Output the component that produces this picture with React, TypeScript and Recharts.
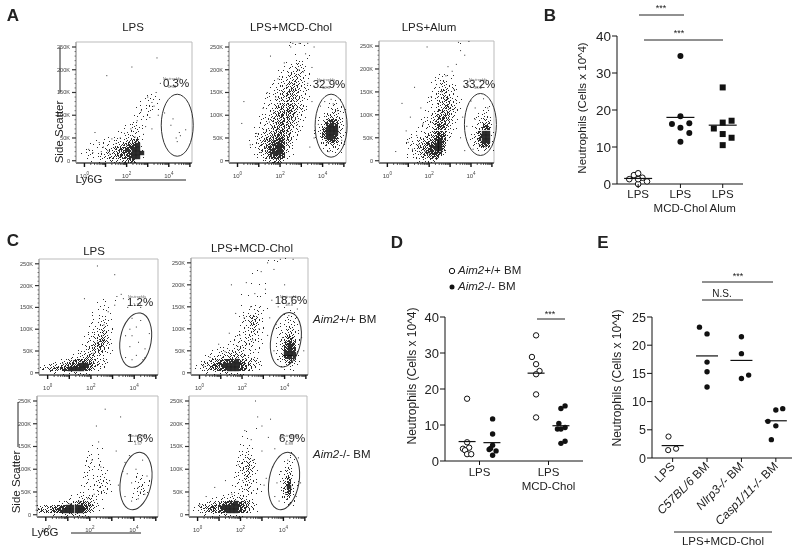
import React from "react"
import {
  ReferenceArea,
  Scatter,
  ScatterChart,
  XAxis,
  YAxis,
} from "recharts"

// value charts: [x position, cells x 10^4]
const B_LPS = [[0.79, 1.3], [0.9, 2.4], [1, 2.9], [1.1, 1.7], [1.21, 0.7], [1, 0], [1, 1.3]]
const B_MCD = [[2, 34.6], [2, 18.3], [1.8, 16.2], [2.21, 16.4], [2, 15.2], [2.21, 13.8], [2, 11.4]]
const B_ALUM = [[3, 26.1], [3, 16.6], [3.21, 17.1], [2.79, 15], [3, 13.5], [3.21, 12.5], [3, 10.5]]
const B_MEANS = [[1, 1.5], [2, 18], [3, 15.9]]
const B_TICKS = [1, 2, 3]
const B_LABELS = [["LPS"], ["LPS", "MCD-Chol"], ["LPS", "Alum"]]
const B_Y_TICKS = [0, 10, 20, 30, 40]

const D_OPEN = [
  [0.82, 17.3], [0.82, 5.2], [0.76, 3.4], [0.85, 3.7], [0.79, 3], [0.82, 1.9], [0.88, 1.9],
  [1.82, 34.9], [1.76, 28.9], [1.82, 26.9], [1.87, 25], [1.82, 24.1], [1.82, 18.5], [1.82, 12.1],
]
const D_FILLED = [
  [1.19, 11.7], [1.19, 7.5], [1.19, 4.4], [1.14, 3.2], [1.24, 2.8], [1.19, 1.6], [1.16, 3.5],
  [2.24, 15.3], [2.18, 14.6], [2.15, 10.4], [2.24, 9.3], [2.13, 8.9], [2.18, 8.9], [2.24, 5.5], [2.18, 4.9],
]
const D_MEANS = [[0.82, 5.4], [1.18, 5.1], [1.82, 24.4], [2.18, 9.8]]
const D_TICKS = [1, 2]
const D_LABELS = [["LPS"], ["LPS", "MCD-Chol"]]
const D_Y_TICKS = [0, 10, 20, 30, 40]

const E_LPS = [[0.88, 3.8], [0.87, 1.4], [1.1, 1.65]]
const E_FILLED = [
  [1.78, 23.2], [2, 22], [2, 17], [2, 15.3], [2, 12.6],
  [3, 21.5], [3, 18.5], [3, 14.1], [3.21, 14.7],
  [4, 8.5], [4.2, 8.75], [3.77, 6.5], [4, 5.7], [3.87, 3.25],
]
const E_MEANS = [[1, 2.2], [2, 18.1], [3, 17.3], [4, 6.6]]
const E_TICKS = [1, 2, 3, 4]
const E_Y_TICKS = [0, 5, 10, 15, 20, 25]

// flow plots: digits are the darkness read per cell, top row first, left to right
const A1_DENSITY = [
  "", "", "", "", "", "", "", "", "", "", "", "", "",
  "000000000000000001110",
  "0000000000000000112110",
  "0000000000000000112110",
  "000000000000000111111",
  "00000000000000011110",
  "0000000000000011110",
  "000000000000001111",
  "00000000000011211",
  "000000000000112210",
  "000000000011122210",
  "0000000011112333",
  "00000111112234661",
  "00011111123457891",
  "00111112345788991",
  "01111123345678999",
  "00111123445678991",
  "0001011122334660",
]
const A2_DENSITY = [
  "0000000000000011111",
  "",
  "",
  "000000000000000010010",
  "000000000000000011110",
  "00000000000000112210",
  "0000000000000112322",
  "00000000000012233321",
  "000000000000123343210",
  "000000000001123343210",
  "000000000011234443211",
  "000000000011234543210",
  "00000000011234554321",
  "000000000112345543210",
  "0000000001123455432100000011",
  "00000000112345554321000011210",
  "00000000112345654321000012321",
  "00000000112456654210000123321",
  "00000001123456653210001134321",
  "00000001123456543210001368631",
  "00000001123456543110001389831",
  "00000011233556532100012699931",
  "00000012334566532100012799931",
  "00000012345677531000012699831",
  "00000112456788531000001368621",
  "00000113457898420000001234321",
  "00000112458898310000000122210",
  "00000012358998210000000011110",
  "000000012478872",
  "00000000123552",
]
const A3_DENSITY = [
  "00000000000000000000100",
  "", "", "", "", "", "", "",
  "00000000000000112110",
  "000000000000001221100",
  "00000000000001123211",
  "000000000000011233210",
  "000000000000012343210",
  "00000000000011234421",
  "000000000000112345321",
  "000000000000112345321",
  "00000000000001234543100000110",
  "00000000000112345532000001220",
  "00000000000113456531000011221",
  "00000000001123456521000012321",
  "00000000001123566421000012551",
  "00000000011123576321000123781",
  "00000000111234676210000136991",
  "00000001112345787210000137991",
  "00000011123456897100000136991",
  "00000011234578996000000125871",
  "00000001234678995000000012321",
  "00000001234578873",
  "0000000112345671",
  "000000000122331",
]
const C1_DENSITY = [
  "", "", "", "", "", "", "", "", "", "",
  "000000000000000100100",
  "00000000000000101",
  "000000000000001110",
  "00000000000001111",
  "000000000000011111",
  "000000000000011121",
  "000000000000112210",
  "00000000000011232100",
  "00000000000012343100",
  "0000000000001234310",
  "000000000001234531",
  "0000000000012356410",
  "00000000001235652100",
  "00000000011235542100",
  "0000000011234442110",
  "00000001123443211",
  "000012345666543210",
  "012334567899754210",
  "23456789999863210",
  "0011111222211",
]
const C2_DENSITY = [
  "000000000000000000011101",
  "", "",
  "00000000000000011000",
  "", "",
  "000000000000001010100",
  "", "",
  "00000000000010101110000000",
  "", "",
  "00000000000010111110000100",
  "000000000000011121000000110",
  "000000000000012321000001110",
  "000000000000123431000001211",
  "000000000000124431000011221",
  "000000000000123421000112321",
  "000000000000123421000112331",
  "000000000001123321000123431",
  "000000000011123211000124641",
  "000000000111233211000136861",
  "000000011112332110000137971",
  "000001111233322110000138981",
  "000011122334322110000139991",
  "000112333444332110000138971",
  "001234567889654321000124641",
  "012346789999865321000012321",
  "012345678999864210000001110",
  "000111122221110",
]
const C3_DENSITY = [
  "", "", "", "", "", "", "", "", "", "", "", "",
  "00000000000001000",
  "00000000000010110",
  "000000000000111000",
  "0000000000011110",
  "00000000000111110",
  "000000000001211100",
  "0000000000012111100",
  "00000000000111121000000111",
  "000000000001111221000001111",
  "0000000000011122210000011210",
  "00000000001111232000000123100",
  "000000000011112321000000231",
  "00000000111112211000000121",
  "0000000111233211000000110",
  "000001234566531",
  "3345678999986421",
  "4556789999975310",
  "0001112333221",
]
const C4_DENSITY = [
  "", "", "", "", "", "", "", "",
  "00000000000000101",
  "",
  "0000000000000110",
  "",
  "0000000000001110",
  "00000000000011210",
  "00000000000012210000000011",
  "000000000000123210000000110",
  "000000000001234210000001210",
  "000000000001235310000001310",
  "000000000001234310000012310",
  "000000000001134210000012410",
  "000000000001123210000013610",
  "000000000001123211000014821",
  "000000000011123110000014921",
  "000000000011123211000014821",
  "000000001111222110000013610",
  "000001112233322100000012310",
  "001123456789765210000001210",
  "013456789999865310000000110",
  "012345678999864210",
  "000111122221110",
]

// single events outside the dense parts: [log10 Ly6G, SSC in K]
const A1_DOTS = [
  [1.06, 187], [3.44, 226], [2.25, 206], [4.2, 92], [4.5, 62], [4.35, 50], [4.8, 68], [4.4, 42],
  [4.55, 55], [4.1, 78], [0.2, 25], [0.5, 62], [0.7, 40], [0.9, 30], [1.1, 22], [1.3, 48], [0.4, 18],
  [1.5, 38], [1.7, 50], [1.9, 60], [2.2, 70], [2.5, 88], [2.7, 110], [3, 140], [3.2, 128], [3.4, 150],
  [3.6, 170], [3.3, 120], [3.5, 100], [3.8, 105], [3.1, 95], [2.9, 75], [2.3, 15], [1.6, 12], [2, 35],
  [2.4, 52], [2.8, 58], [3.2, 70], [2.6, 30], [2.1, 24], [1.2, 15], [0.8, 20],
]
const A2_DOTS = [
  [0.3, 130], [1.55, 230], [0.9, 60], [1.2, 115], [0.6, 35], [1.5, 85], [1.9, 180], [2.2, 215], [2.5, 250],
  [3.2, 235], [3.6, 250], [2.9, 258], [3.3, 258], [2.6, 258], [1.3, 28], [1.7, 45], [1.1, 18], [1.9, 70],
  [3.7, 170], [3.5, 205], [3.9, 120], [3.8, 80], [3.6, 50], [3.4, 30], [4.3, 20], [4.9, 45], [4.1, 130],
  [4.5, 125], [4.2, 40], [4.7, 110], [4.4, 135], [0.2, 82], [2, 125], [1.4, 150], [1.8, 140], [2.1, 30],
  [2.3, 165], [3.1, 195], [3.3, 170], [3.5, 130], [1.7, 105], [2.9, 200],
]
const A3_DOTS = [
  [1.9, 248], [3.4, 258], [3.9, 260], [3.5, 240], [3.7, 230], [2.9, 205], [3.3, 210], [0.7, 125], [0.9, 65],
  [0.4, 20], [1.1, 95], [1.3, 160], [1.6, 115], [1.4, 55], [1.7, 80], [2.1, 140], [2.3, 175], [2.4, 100],
  [2.6, 150], [3.1, 195], [3.8, 165], [4, 130], [3.8, 75], [3.6, 95], [3.5, 50], [3.7, 22], [4.2, 115],
  [4.6, 135], [4.8, 115], [4.1, 25], [4.4, 35], [4.7, 30], [4.2, 90], [1, 40], [1.2, 25], [1.5, 35],
  [1.8, 20], [2, 15], [2.8, 185], [3.2, 155],
]
const C1_DOTS = [
  [2.3, 245], [3.1, 225], [1.7, 170], [3.4, 180], [3.2, 175], [3.5, 170], [3.7, 150], [3.9, 125], [3.8, 100],
  [4.1, 105], [4.3, 120], [3.9, 85], [4.2, 70], [4.1, 40], [4.5, 55], [4.4, 30], [4.7, 90], [3.8, 60],
  [3.6, 35], [3.9, 30], [2.3, 70], [2.6, 110], [2.1, 45], [1.8, 35], [1.2, 28], [0.7, 22], [2.8, 140],
  [3.1, 155], [2.5, 85], [3.6, 85], [4.5, 35], [4.3, 150],
]
const C2_DOTS = [
  [3.2, 250], [2.9, 230], [3.5, 235], [3.8, 258], [4.4, 258], [1.7, 135], [0.9, 65], [0.5, 35], [1.4, 90],
  [2.1, 125], [1.8, 60], [1.2, 48], [2.4, 150], [2.6, 180], [3.1, 190], [3.4, 165], [3.7, 150], [3.3, 125],
  [3.6, 110], [3.9, 80], [3.5, 50], [3.7, 30], [0.2, 15], [4.6, 145], [4.8, 80], [4.2, 130], [4.9, 50],
  [2.2, 205], [1.5, 200], [2.8, 100], [1.9, 85], [2.5, 75], [3.2, 85], [4, 200],
]
const C3_DOTS = [
  [2.7, 232], [2.3, 195], [3.4, 215], [2.4, 160], [3.2, 140], [3.8, 130], [2.1, 120], [2.5, 105], [3.6, 115],
  [3.7, 90], [3.9, 70], [3.6, 40], [3.9, 30], [4.1, 100], [4.4, 120], [4.2, 60], [4.3, 50], [4.5, 45],
  [4.6, 85], [4.2, 35], [2.9, 75], [2.2, 45], [1.5, 30], [1.1, 24], [0.6, 20], [1.9, 35], [3.3, 65], [3.5, 95],
]
const C4_DOTS = [
  [2.7, 250], [3.4, 210], [3, 195], [2.2, 185], [2.5, 165], [1.9, 110], [1.3, 75], [0.8, 60], [0.4, 40],
  [1.6, 45], [2.1, 75], [2.6, 120], [3.3, 170], [3.6, 145], [3.5, 105], [3.2, 80], [3.7, 70], [3.9, 95],
  [3.6, 40], [3.8, 30], [0.1, 22], [4.7, 125], [4.2, 120], [4.8, 70], [4.1, 45], [4.6, 40], [4.3, 25],
  [3, 140], [2.8, 215], [3.1, 65],
]

const X_MAJOR = [0, 1, 2, 3, 4, 5]
const X_MINOR = [0.3, 0.48, 0.6, 0.7, 0.78, 0.85, 0.9, 0.95]
const X_LABELLED = [0, 2, 4]
const Y_MAJOR = [0, 50, 100, 150, 200, 250]
const Y_MINOR = [10, 20, 30, 40, 60, 70, 80, 90, 110, 120, 130, 140, 160, 170, 180, 190, 210, 220, 230, 240]

const X_MIN = -0.4
const X_MAX = 5.1
const Y_MIN = -5
const Y_MAX = 261
const COLS = 29
const ROWS = 30

// how a cell of a given darkness is stippled
const STIPPLE_ORDER = [
  [1, 2], [3, 0], [0, 3], [2, 1], [3, 2], [1, 0], [2, 3], [0, 1],
  [2, 0], [0, 2], [3, 3], [1, 1], [2, 2], [0, 0], [3, 1], [1, 3],
]
const STIPPLE_COUNT = [0, 1, 2, 3, 5, 7, 9, 11, 13, 16]

const FONT = "'Liberation Sans', Arial, sans-serif"
const INK = "#222"

const points = (rows: number[][]) => rows.map(([x, y]) => ({ x, y }))

const densityCells = (rows: string[]) =>
  rows.flatMap((row, r) =>
    row
      .split("")
      .map((c, i) => ({
        x: X_MIN + ((i + 0.5) * (X_MAX - X_MIN)) / COLS,
        y: Y_MAX - ((r + 0.5) * (Y_MAX - Y_MIN)) / ROWS,
        d: Number(c),
        phase: r * 7 + i * 3,
      }))
      .filter((cell) => cell.d > 0)
  )

const xTickValues = X_MAJOR.flatMap((m) => [m, ...X_MINOR.map((n) => m + n)]).filter((v) => v <= X_MAX)
const yTickValues = [...Y_MAJOR, ...Y_MINOR].sort((a, b) => a - b)

function FlowXTick({ x, y, payload }: any) {
  const v = payload.value
  const major = X_MAJOR.includes(v)
  return (
    <g>
      <line x1={x} x2={x} y1={y} y2={y + (major ? 4 : 2)} stroke="#111" strokeWidth={major ? 1.4 : 0.7} />
      {X_LABELLED.includes(v) && (
        <text x={x} y={y + 15} textAnchor="middle" fontFamily={FONT} fontSize={6} fill="#444">
          10
          <tspan dy={-3} fontSize={4.5}>
            {v}
          </tspan>
        </text>
      )}
    </g>
  )
}

function FlowYTick({ x, y, payload }: any) {
  const v = payload.value
  const major = Y_MAJOR.includes(v)
  return (
    <g>
      <line x1={x - (major ? 4 : 1.5)} x2={x} y1={y} y2={y} stroke="#333" strokeWidth={major ? 1.2 : 0.6} />
      {major && (
        <text x={x - 6} y={y + 2} textAnchor="end" fontFamily={FONT} fontSize={5.6} fill="#444">
          {v === 0 ? "0" : `${v}K`}
        </text>
      )}
    </g>
  )
}

const cellShape = (props: any) => {
  const d = props.payload?.d ?? props.d
  const phase = props.payload?.phase ?? props.phase
  const left = Math.round(props.cx - 2)
  const top = Math.round(props.cy - 2)
  if (d === 9) return <rect x={left - 0.2} y={top - 0.2} width={4.4} height={4.4} fill="#111" fillOpacity={0.88} />
  const path = Array.from({ length: STIPPLE_COUNT[d] }, (_, n) => {
    const [ox, oy] = STIPPLE_ORDER[(phase + n) % STIPPLE_ORDER.length]
    return `M${left + ox} ${top + oy}h1v1h-1z`
  }).join("")
  return <path d={path} fill="#111" fillOpacity={0.88} />
}
const dotShape = (props: any) => <rect x={props.cx - 0.5} y={props.cy - 0.5} width={1} height={1} fill="#333" />

interface FlowPlotProps {
  left: number
  top: number
  right: number
  bottom: number
  density: string[]
  dots: number[][]
  gate: { x: number; y: number; rx: number; ry: number; tilt: number }
}

function FlowPlot({ left, top, right, bottom, density, dots, gate }: FlowPlotProps) {
  const ml = 30
  const mb = 22
  const gateShape = (props: any) => (
    <ellipse
      cx={props.cx}
      cy={props.cy}
      rx={gate.rx}
      ry={gate.ry}
      fill="none"
      stroke="#333"
      strokeWidth={1}
      transform={`rotate(${gate.tilt} ${props.cx} ${props.cy})`}
    />
  )
  return (
    <div style={{ position: "absolute", left: left - ml, top: top - 4 }}>
      <ScatterChart
        width={right - left + ml + 4}
        height={bottom - top + 4 + mb}
        margin={{ top: 4, right: 4, bottom: 0, left: 0 }}
      >
        <XAxis
          type="number"
          dataKey="x"
          domain={[X_MIN, X_MAX]}
          ticks={xTickValues}
          interval={0}
          tick={FlowXTick}
          tickSize={0}
          tickMargin={0}
          height={mb}
          stroke="#111"
        />
        <YAxis
          type="number"
          dataKey="y"
          domain={[Y_MIN, Y_MAX]}
          ticks={yTickValues}
          interval={0}
          tick={FlowYTick}
          tickSize={0}
          tickMargin={0}
          width={ml}
          stroke="#999"
        />
        <ReferenceArea x1={X_MIN} x2={X_MAX} y1={Y_MIN} y2={Y_MAX} fill="none" stroke="#bbb" />
        <Scatter data={densityCells(density)} shape={cellShape} isAnimationActive={false} />
        <Scatter data={points(dots)} shape={dotShape} isAnimationActive={false} />
        <Scatter data={[{ x: gate.x, y: gate.y }]} shape={gateShape} isAnimationActive={false} />
      </ScatterChart>
    </div>
  )
}

const openCircle = (r: number) => (props: any) => (
  <circle cx={props.cx} cy={props.cy} r={r} fill="#fff" stroke="#111" strokeWidth={1} />
)
const filledCircle = (r: number) => (props: any) => <circle cx={props.cx} cy={props.cy} r={r} fill="#111" />
const filledSquare = (props: any) => (
  <rect x={props.cx - 3} y={props.cy - 3} width={6} height={6} fill="#111" />
)
const meanBar = (half: number) => (props: any) => (
  <line x1={props.cx - half} x2={props.cx + half} y1={props.cy} y2={props.cy} stroke="#111" strokeWidth={1.2} />
)

const valueYTick = (fontSize: number) => ({ x, y, payload }: any) => (
  <g>
    <line x1={x - 5} x2={x} y1={y} y2={y} stroke="#111" />
    <text x={x - 6} y={y + fontSize * 0.36} textAnchor="end" fontFamily={FONT} fontSize={fontSize} fill={INK}>
      {payload.value}
    </text>
  </g>
)

const stackedXTick = (labels: string[][], fontSize: number, firstLine: number, lineGap: number) => ({
  x,
  y,
  index,
}: any) => (
  <g>
    <line x1={x} x2={x} y1={y} y2={y + 4} stroke="#111" />
    {(labels[index] ?? []).map((t, i) => (
      <text
        key={t}
        x={x}
        y={y + firstLine + i * lineGap}
        textAnchor="middle"
        fontFamily={FONT}
        fontSize={fontSize}
        fill={INK}
      >
        {t}
      </text>
    ))}
  </g>
)

const E_NAMES: [string, string][] = [
  ["LPS", ""],
  ["C57BL/6", " BM"],
  ["Nlrp3-/-", " BM"],
  ["Casp1/11-/-", " BM"],
]

function ETick({ x, y, index }: any) {
  const [a, b] = E_NAMES[index] ?? ["", ""]
  return (
    <g>
      <line x1={x} x2={x} y1={y} y2={y + 4} stroke="#111" />
      <text
        x={x + 3}
        y={y + 9}
        textAnchor="end"
        fontFamily={FONT}
        fontSize={12}
        fill={INK}
        transform={`rotate(-45 ${x + 3} ${y + 9})`}
      >
        <tspan fontStyle={b ? "italic" : "normal"}>{a}</tspan>
        {b}
      </text>
    </g>
  )
}

function ValueChart({
  left,
  top,
  width,
  height,
  xDomain,
  xTicks,
  xTick,
  yDomain,
  yTicks,
  yFont,
  children,
}: any) {
  const ml = 36
  const mb = 90
  return (
    <div style={{ position: "absolute", left: left - ml, top: top - 8 }}>
      <ScatterChart
        width={width + ml + 8}
        height={height + 8 + mb}
        margin={{ top: 8, right: 8, bottom: 0, left: 0 }}
      >
        <XAxis
          type="number"
          dataKey="x"
          domain={xDomain}
          ticks={xTicks}
          interval={0}
          tick={xTick}
          tickSize={0}
          tickMargin={0}
          height={mb}
          stroke="#111"
        />
        <YAxis
          type="number"
          dataKey="y"
          domain={yDomain}
          ticks={yTicks}
          interval={0}
          tick={valueYTick(yFont)}
          tickSize={0}
          tickMargin={0}
          width={ml}
          stroke="#111"
        />
        {children}
      </ScatterChart>
    </div>
  )
}

function T({ x, y, size = 11.5, anchor = "middle", rotate, bold, fill = INK, children }: any) {
  return (
    <text
      x={x}
      y={y}
      dominantBaseline="middle"
      textAnchor={anchor}
      fontFamily={FONT}
      fontSize={size}
      fontWeight={bold ? 700 : 400}
      fill={fill}
      transform={rotate ? `rotate(${rotate} ${x} ${y})` : undefined}
    >
      {children}
    </text>
  )
}

function Rule({ x1, x2, y1, y2 = y1 }: any) {
  return <line x1={x1} x2={x2} y1={y1} y2={y2} stroke="#222" strokeWidth={1} />
}

// the small gate caption that sits under each large percentage
function GateCaption({ x, y, value }: any) {
  return (
    <>
      <T x={x} y={y - 4} size={3.6} fill="#666">Neutrophils</T>
      <T x={x} y={y + 4} size={4.2} fill="#666">{value}</T>
    </>
  )
}

export default function App() {
  return (
    <div
      style={{
        position: "absolute",
        left: 0,
        top: 0,
        width: 800,
        height: 553,
        background: "#fff",
        overflow: "hidden",
        filter: "blur(0.4px)",
      }}
    >
      <FlowPlot left={76} top={42} right={192} bottom={163} density={A1_DENSITY} dots={A1_DOTS} gate={{ x: 4.4, y: 78, rx: 16, ry: 31, tilt: 0 }} />
      <FlowPlot left={229} top={42} right={346} bottom={163} density={A2_DENSITY} dots={A2_DOTS} gate={{ x: 4.4, y: 77, rx: 16, ry: 31.5, tilt: 0 }} />
      <FlowPlot left={379} top={41} right={494} bottom={163} density={A3_DENSITY} dots={A3_DOTS} gate={{ x: 4.45, y: 79, rx: 16, ry: 31, tilt: 0 }} />
      <FlowPlot left={39} top={259} right={158} bottom={375} density={C1_DENSITY} dots={C1_DOTS} gate={{ x: 4.07, y: 75, rx: 15.5, ry: 27.5, tilt: 10 }} />
      <FlowPlot left={191} top={258} right={308} bottom={375} density={C2_DENSITY} dots={C2_DOTS} gate={{ x: 4.06, y: 75, rx: 15, ry: 27.5, tilt: 10 }} />
      <FlowPlot left={37} top={396} right={158} bottom={517} density={C3_DENSITY} dots={C3_DOTS} gate={{ x: 4.1, y: 74, rx: 15.5, ry: 29, tilt: 10 }} />
      <FlowPlot left={189} top={396} right={307} bottom={517} density={C4_DENSITY} dots={C4_DOTS} gate={{ x: 4.03, y: 74, rx: 15, ry: 29, tilt: 10 }} />

      <ValueChart
        left={617}
        top={36}
        width={126}
        height={148}
        xDomain={[0.5, 3.48]}
        xTicks={B_TICKS}
        xTick={stackedXTick(B_LABELS, 11.5, 14, 14)}
        yDomain={[0, 40]}
        yTicks={B_Y_TICKS}
        yFont={13.5}
      >
        <Scatter data={points(B_LPS)} shape={openCircle(2.8)} isAnimationActive={false} />
        <Scatter data={points(B_MCD)} shape={filledCircle(3)} isAnimationActive={false} />
        <Scatter data={points(B_ALUM)} shape={filledSquare} isAnimationActive={false} />
        <Scatter data={points(B_MEANS)} shape={meanBar(14)} isAnimationActive={false} />
      </ValueChart>

      <ValueChart
        left={445}
        top={317}
        width={138}
        height={144}
        xDomain={[0.5, 2.5]}
        xTicks={D_TICKS}
        xTick={stackedXTick(D_LABELS, 11.5, 15, 14)}
        yDomain={[0, 40]}
        yTicks={D_Y_TICKS}
        yFont={13}
      >
        <Scatter data={points(D_OPEN)} shape={openCircle(2.7)} isAnimationActive={false} />
        <Scatter data={points(D_FILLED)} shape={filledCircle(2.7)} isAnimationActive={false} />
        <Scatter data={points(D_MEANS)} shape={meanBar(8.5)} isAnimationActive={false} />
      </ValueChart>

      <ValueChart
        left={652}
        top={317}
        width={140}
        height={141}
        xDomain={[0.4, 4.47]}
        xTicks={E_TICKS}
        xTick={ETick}
        yDomain={[0, 25]}
        yTicks={E_Y_TICKS}
        yFont={12.5}
      >
        <Scatter data={points(E_LPS)} shape={openCircle(2.6)} isAnimationActive={false} />
        <Scatter data={points(E_FILLED)} shape={filledCircle(2.7)} isAnimationActive={false} />
        <Scatter data={points(E_MEANS)} shape={meanBar(11)} isAnimationActive={false} />
      </ValueChart>

      <svg width={800} height={553} style={{ position: "absolute", left: 0, top: 0, pointerEvents: "none" }}>
        <T x={13} y={17} size={17} bold>A</T>
        <T x={550} y={17} size={17} bold>B</T>
        <T x={13} y={242} size={17} bold>C</T>
        <T x={397} y={244} size={17} bold>D</T>
        <T x={603} y={244} size={17} bold>E</T>

        <T x={133} y={28}>LPS</T>
        <T x={291} y={28}>LPS+MCD-Chol</T>
        <T x={429} y={28}>LPS+Alum</T>
        <T x={94} y={252}>LPS</T>
        <T x={252} y={249}>LPS+MCD-Chol</T>

        <GateCaption x={172} y={83} value="0.34" />
        <GateCaption x={326} y={84} value="32.9" />
        <GateCaption x={478} y={84} value="33.2" />
        <GateCaption x={137} y={301} value="1.22" />
        <GateCaption x={289} y={301} value="18.8" />
        <GateCaption x={138} y={440} value="1.57" />
        <GateCaption x={289} y={440} value="6.89" />

        <T x={176} y={84}>0.3%</T>
        <T x={329} y={85}>32.9%</T>
        <T x={479} y={85}>33.2%</T>
        <T x={140} y={303}>1.2%</T>
        <T x={291} y={301}>18.6%</T>
        <T x={140} y={439}>1.6%</T>
        <T x={292} y={439}>6.9%</T>

        <T x={60} y={132} rotate={-90}>Side Scatter</T>
        <Rule x1={60} x2={60} y1={47} y2={93} />
        <T x={89} y={180}>Ly6G</T>
        <Rule x1={115} x2={186} y1={180} />
        <T x={17} y={482} rotate={-90}>Side Scatter</T>
        <Rule x1={18} x2={18} y1={402} y2={447} />
        <T x={45} y={533}>Ly6G</T>
        <Rule x1={71} x2={141} y1={533} />

        <T x={313} y={320} anchor="start"><tspan fontStyle="italic">Aim2</tspan>+/+ BM</T>
        <T x={313} y={455} anchor="start"><tspan fontStyle="italic">Aim2</tspan>-/- BM</T>

        <T x={583} y={108} rotate={-90}>Neutrophils (Cells x 10^4)</T>
        <T x={661} y={9} size={9}>***</T>
        <Rule x1={639} x2={684} y1={15} />
        <T x={679} y={34} size={9}>***</T>
        <Rule x1={644} x2={723} y1={40} />

        <T x={413} y={376} size={12} rotate={-90}>Neutrophils (Cells x 10^4)</T>
        <circle cx={452} cy={271} r={2.7} fill="#fff" stroke="#111" />
        <T x={458} y={271} anchor="start"><tspan fontStyle="italic">Aim2</tspan>+/+ BM</T>
        <circle cx={452} cy={287} r={2.5} fill="#111" />
        <T x={458} y={287} anchor="start"><tspan fontStyle="italic">Aim2</tspan>-/- BM</T>
        <T x={550} y={315} size={9}>***</T>
        <Rule x1={537} x2={565} y1={319} />

        <T x={618} y={378} size={12} rotate={-90}>Neutrophils (Cells x 10^4)</T>
        <T x={738} y={277} size={9}>***</T>
        <Rule x1={702} x2={773} y1={282} />
        <T x={722} y={294} size={10}>N.S.</T>
        <Rule x1={702} x2={743} y1={300} />
        <Rule x1={674} x2={772} y1={532} />
        <T x={723} y={542}>LPS+MCD-Chol</T>
      </svg>
    </div>
  )
}
